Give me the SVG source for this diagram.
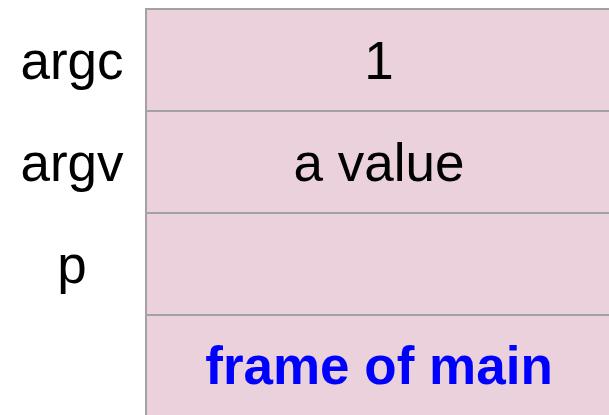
<svg xmlns="http://www.w3.org/2000/svg" width="609" height="415" viewBox="0 0 609 415">
  <style>
    .cell { fill: #ead1dc; stroke: #a2a2a2; stroke-width: 2; }
    .txt { font-family: "Liberation Sans", Arial, sans-serif; font-size: 53px; text-anchor: middle; fill: #000000; }
    .title { font-weight: bold; fill: #0000ff; }
  </style>
  <rect width="609" height="415" fill="#ffffff"/>
  <!-- stack frame cells -->
  <g id="row-argc">
    <rect class="cell" x="146" y="9" width="470" height="102"/>
    <text class="txt" x="72" y="79">argc</text>
    <text class="txt" x="379" y="79">1</text>
  </g>
  <g id="row-argv">
    <rect class="cell" x="146" y="111" width="470" height="102"/>
    <text class="txt" x="72" y="181">argv</text>
    <text class="txt" x="379" y="181">a value</text>
  </g>
  <g id="row-p">
    <rect class="cell" x="146" y="213" width="470" height="102"/>
    <text class="txt" x="72" y="283">p</text>
  </g>
  <g id="row-frame">
    <rect class="cell" x="146" y="315" width="470" height="110"/>
    <text class="txt title" x="379" y="384">frame of main</text>
  </g>
  <g id="connectors"/>
</svg>
